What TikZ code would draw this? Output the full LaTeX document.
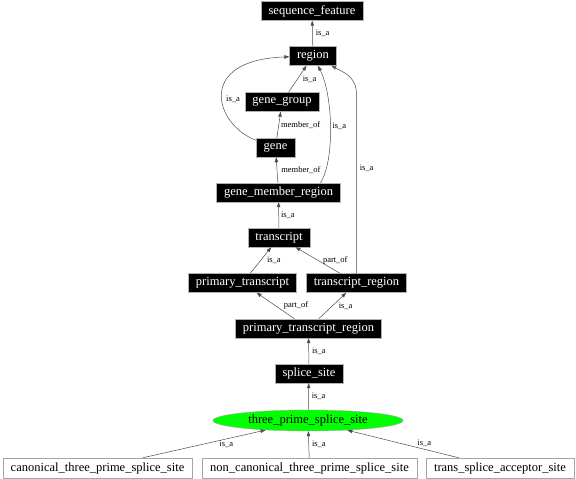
\documentclass[tikz,border=0pt]{standalone}
\usepackage{fontspec}
\setmainfont{Liberation Serif}
\usepackage{tikz}
\usetikzlibrary{shapes,arrows.meta,positioning,calc}

\begin{document}
\begin{tikzpicture}[x=1pt, y=-1pt,
    every node/.style={font=\fontsize{12.5}{14}\selectfont},
    term/.style={rectangle, fill=black, draw=gray!60, text=white, minimum height=19pt, inner xsep=7.5pt, inner ysep=0pt},
    leaf/.style={rectangle, fill=white, draw=gray!70, minimum height=20pt, inner xsep=8pt, inner ysep=0pt},
    focus/.style={ellipse, fill=green, draw=gray!70, minimum width=190pt, minimum height=21pt, inner sep=0pt},
    rel/.style={draw=black!70, line width=0.5pt, -{Triangle[length=5pt,width=3.5pt]}},
    lbl/.style={font=\fontsize{8.5}{10}\selectfont, inner sep=1pt, text=black}]
    \useasboundingbox (0,0) rectangle (576,479);

    % Terms
    \node[term] (seqf) at (312,11) {sequence\_feature};
    \node[term] (region) at (313,56) {region};
    \node[term] (gg) at (282,102) {gene\_group};
    \node[term] (gene) at (275.5,147.5) {gene};
    \node[term] (gmr) at (278.5,192.5) {gene\_member\_region};
    \node[term] (transcript) at (279,237.5) {transcript};
    \node[term] (pt) at (242.5,283) {primary\_transcript};
    \node[term] (tr) at (356.5,283) {transcript\_region};
    \node[term] (ptr) at (308.5,328.5) {primary\_transcript\_region};
    \node[term] (ss) at (309,373.5) {splice\_site};
    \node[focus] (tpss) at (308,420.5) {three\_prime\_splice\_site};

    % Children
    \node[leaf] (can) at (97.5,468) {canonical\_three\_prime\_splice\_site};
    \node[leaf] (noncan) at (309.5,468) {non\_canonical\_three\_prime\_splice\_site};
    \node[leaf] (tsas) at (500,468) {trans\_splice\_acceptor\_site};

    % Relations
    \draw[rel] (region) -- node[lbl, right=2pt] {is\_a} (seqf);
    \draw[rel] (gg) -- node[lbl, right=4pt] {is\_a} (region);
    \draw[rel] (gene) .. controls (215,125) and (195,60) .. node[lbl, right=3pt, pos=0.45] {is\_a} (region);
    \draw[rel] (gene) -- node[lbl, right=1pt] {member\_of} (gg);
    \draw[rel] ([xshift=42pt]gmr.north) .. controls (335,160) and (333,95) .. node[lbl, right=1pt] {is\_a} (region);
    \draw[rel] (gmr) -- node[lbl, right=3pt] {member\_of} (gene);
    \draw[rel] (tr) -- node[lbl, right=2pt, pos=0.587] {is\_a} (tr.north |- 0,95) .. controls +(0,-18) and (345,73) .. (region);
    \draw[rel] (transcript) -- node[lbl, right=1pt] {is\_a} (gmr);
    \draw[rel] (pt) -- node[lbl, right=5pt] {is\_a} (transcript);
    \draw[rel] (tr) -- node[lbl, right=4pt] {part\_of} (transcript);
    \draw[rel] (ptr) -- node[lbl, right=7pt] {part\_of} (pt);
    \draw[rel] (ptr) -- node[lbl, right=5pt] {is\_a} (tr);
    \draw[rel] (ss) -- node[lbl, right=2pt] {is\_a} (ptr);
    \draw[rel] (tpss) -- node[lbl, right=2pt] {is\_a} (ss);
    \draw[rel] (can) -- node[lbl, below=1pt, pos=0.68] {is\_a} (tpss);
    \draw[rel] (noncan) -- node[lbl, right=2pt] {is\_a} (tpss);
    \draw[rel] (tsas) -- node[lbl, above=1pt, pos=0.31] {is\_a} (tpss);
\end{tikzpicture}
\end{document}
